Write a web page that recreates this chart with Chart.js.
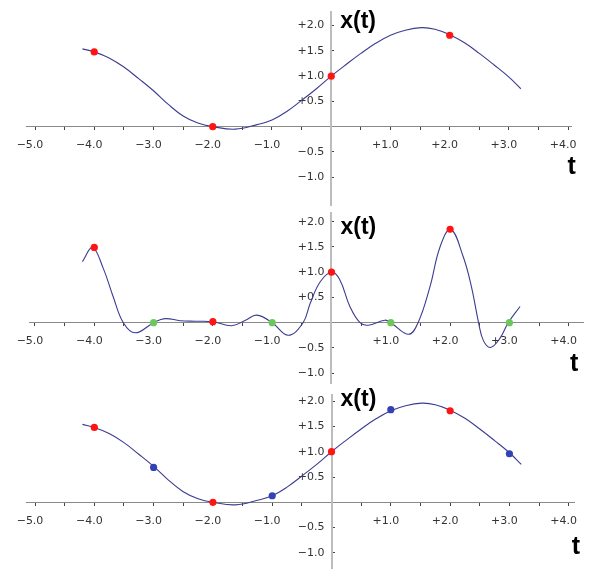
<!DOCTYPE html>
<html>
<head>
<meta charset="utf-8">
<script src="https://cdn.jsdelivr.net/npm/chart.js@4.4.1/dist/chart.umd.min.js"></script>
<style>
  html, body { margin: 0; padding: 0; background: #fff; }
  #wrap { position: relative; width: 600px; height: 582px; overflow: hidden; }
  #wrap canvas { position: absolute; left: 0; }
</style>
</head>
<body>
<div id="wrap"></div>
<script>
// sampled signal (top and bottom panels show the same curve)
const smoothT = [-4.2, -4, -3.75, -3.5, -3.25, -3, -2.75, -2.5, -2.25, -2, -1.62, -1.25, -1, -0.75, -0.5, -0.25,
  0, 0.25, 0.5, 0.75, 1, 1.25, 1.52, 1.75, 2, 2.25, 2.5, 2.75, 3, 3.2];
const smoothX = [1.54, 1.48, 1.36, 1.18, 0.95, 0.71, 0.44, 0.21, 0.07, 0.0, -0.05, 0.04, 0.13, 0.30, 0.52, 0.75,
  1.0, 1.23, 1.45, 1.65, 1.81, 1.91, 1.96, 1.93, 1.82, 1.66, 1.45, 1.22, 0.98, 0.75];

// middle panel reconstruction
const wiggleT = [-4.2, -4.03, -3.85, -3.68, -3.51, -3.31, -3.0, -2.81, -2.55, -2.3, -2.0, -1.68, -1.45, -1.26, -1.0,
  -0.73, -0.48, -0.36, -0.19, 0, 0.14, 0.31, 0.48, 0.62, 0.9, 1.0, 1.3, 1.46, 1.66, 1.83, 2.01, 2.22, 2.36, 2.48,
  2.56, 2.68, 2.84, 2.98, 3.18];
const wiggleX = [1.21, 1.49, 1.08, 0.51, 0.0, -0.2, 0.0, 0.08, 0.04, 0.03, 0.02, -0.06, 0.05, 0.15, 0.0,
  -0.25, 0.0, 0.38, 0.81, 1.0, 0.85, 0.32, 0.0, -0.05, 0.05, 0.0, -0.23, 0.0, 0.71, 1.5, 1.85, 1.31, 0.71, 0.0,
  -0.35, -0.49, -0.31, 0.0, 0.32];

// sample markers
const evenT = [-4, -2, 0, 2];
const evenX = [1.48, 0.0, 1.0, 1.81];
const evenXmid = [1.49, 0.02, 1.0, 1.85];
const oddT = [-3, -1, 1, 3];
const oddZero = [0, 0, 0, 0];
const oddX = [0.69, 0.13, 1.83, 0.96];

// axis ticks
const tTicks = [-5, -4.5, -4, -3.5, -3, -2.5, -2, -1.5, -1, -0.5, 0, 0.5, 1, 1.5, 2, 2.5, 3, 3.5, 4];
const tLabels = ["\u22125.0", "", "\u22124.0", "", "\u22123.0", "", "\u22122.0", "", "\u22121.0", "", "", "",
  "+1.0", "", "+2.0", "", "+3.0", "", "+4.0"];
const xTicks = [-1, -0.5, 0, 0.5, 1, 1.5, 2];
const xLabels = ["\u22121.0", "\u22120.5", "", "+0.5", "+1.0", "+1.5", "+2.0"];

Chart.defaults.font.family = '"DejaVu Sans", "Liberation Sans", sans-serif';
Chart.defaults.font.size = 11;
Chart.defaults.color = "#333";

const LINE = "#3c3c92";
const RED = "#ff1414";
const GREEN = "#6cc85a";
const BLUE = "#3242b4";

function toPoints(ts, xs) {
  return ts.map((t, i) => ({ x: t, y: xs[i] }));
}

function curve(ts, xs) {
  return {
    data: toPoints(ts, xs),
    showLine: true,
    borderColor: LINE,
    borderWidth: 1.1,
    pointRadius: 0,
    tension: 0.4,
    order: 2,
  };
}

function dots(ts, xs, color) {
  return {
    data: toPoints(ts, xs),
    showLine: false,
    pointRadius: 3.6,
    pointBackgroundColor: color,
    pointBorderWidth: 0,
    order: 1,
  };
}

const axisNames = {
  id: "axisNames",
  afterDraw(chart, args, opts) {
    const { ctx, scales: { x, y } } = chart;
    ctx.save();
    ctx.fillStyle = "#000";
    ctx.textBaseline = "middle";
    ctx.textAlign = "left";
    ctx.font = 'bold 23px "Liberation Sans", Arial, sans-serif';
    ctx.fillText("x(t)", x.getPixelForValue(0) + 9, y.getPixelForValue(opts.xtAt));
    ctx.textAlign = "center";
    ctx.font = 'bold 25px "Liberation Sans", Arial, sans-serif';
    ctx.fillText("t", x.getPixelForValue(opts.tAt[0]), y.getPixelForValue(opts.tAt[1]));
    ctx.restore();
  },
};

function generateOptions(p) {
  return {
    responsive: false,
    animation: false,
    events: [],
    layout: { padding: p.pad },
    plugins: {
      legend: { display: false },
      tooltip: { enabled: false },
      axisNames: { xtAt: p.xtAt, tAt: p.tAt },
    },
    scales: {
      x: {
        type: "linear",
        position: { y: 0 },
        min: p.tMin,
        max: p.tMax,
        afterBuildTicks: (s) => { s.ticks = tTicks.map((v) => ({ value: v })); },
        afterFit: (s) => { s.height = 0; },
        ticks: {
          autoSkip: false,
          maxRotation: 0,
          padding: 9,
          labelOffset: -5,
          callback: (v, i) => tLabels[i],
        },
        grid: { drawOnChartArea: false, drawTicks: true, tickLength: 3, color: "#444" },
        border: { display: true, color: "#8a8a8a", width: 1 },
      },
      y: {
        type: "linear",
        position: { x: 0 },
        min: p.yMin,
        max: p.yMax,
        afterBuildTicks: (s) => { s.ticks = xTicks.map((v) => ({ value: v })); },
        afterFit: (s) => { s.width = 0; },
        ticks: {
          autoSkip: false,
          // labels sit flush on a value-positioned axis, trailing spaces give the gap
          callback: (v, i) => (xLabels[i] ? xLabels[i] + "  " : ""),
        },
        grid: { drawOnChartArea: false, drawTicks: true, tickLength: -4, color: "#444" },
        border: { display: true, color: "#bdbdbd", width: 2 },
      },
    },
  };
}

const panels = [
  {
    top: 0, height: 215,
    pad: { left: 26, right: 29, top: 12, bottom: 9 },
    tMin: -5.152, tMax: 4.047, yMin: -1.56, yMax: 2.27,
    xtAt: 2.08, tAt: [4.06, -0.81],
    datasets: [curve(smoothT, smoothX), dots(evenT, evenX, RED)],
  },
  {
    top: 195, height: 200,
    pad: { left: 29, right: 17, top: 18, bottom: 12 },
    tMin: -5.101, tMax: 4.241, yMin: -1.194, yMax: 2.172,
    xtAt: 1.885, tAt: [4.09, -0.82],
    datasets: [curve(wiggleT, wiggleX), dots(evenT, evenXmid, RED), dots(oddT, oddZero, GREEN)],
  },
  {
    top: 385, height: 197,
    pad: { left: 26, right: 26, top: 10, bottom: 14 },
    tMin: -5.152, tMax: 4.089, yMin: -1.298, yMax: 2.121,
    xtAt: 2.03, tAt: [4.12, -0.88],
    datasets: [curve(smoothT, smoothX), dots(evenT, evenX, RED), dots(oddT, oddX, BLUE)],
  },
];

function drawPanel(p) {
  const canvas = document.createElement("canvas");
  canvas.width = 600;
  canvas.height = p.height;
  canvas.style.top = p.top + "px";
  document.getElementById("wrap").appendChild(canvas);
  new Chart(canvas, {
    type: "scatter",
    data: { datasets: p.datasets },
    options: generateOptions(p),
    plugins: [axisNames],
  });
}

for (const p of panels) {
  drawPanel(p);
}
</script>
</body>
</html>
